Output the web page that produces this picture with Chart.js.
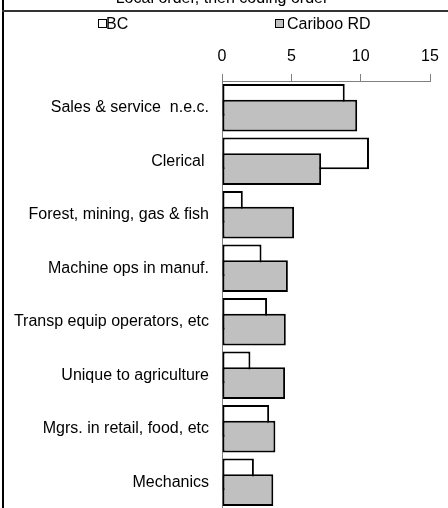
<!DOCTYPE html>
<html>
<head>
<meta charset="utf-8">
<style>
  html, body { margin: 0; padding: 0; background: #fff; overflow: hidden; }
  #wrap { position: relative; width: 448px; height: 508px; overflow: hidden; }
  canvas { position: absolute; left: 0; top: 0; }
</style>
</head>
<body>
<div id="wrap"><canvas id="chart" width="448" height="512"></canvas></div>
<script src="https://cdn.jsdelivr.net/npm/chart.js@4.4.1/dist/chart.umd.min.js"></script>
<script>
const titleText = "Local order, then coding order";
const categories = [
  "Sales & service  n.e.c.",
  "Clerical ",
  "Forest, mining, gas & fish",
  "Machine ops in manuf.",
  "Transp equip operators, etc",
  "Unique to agriculture",
  "Mgrs. in retail, food, etc",
  "Mechanics",
];
const seriesNames = ["BC", "Cariboo RD"];
const bcValues = [8.85, 10.6, 1.5, 2.85, 3.25, 2.05, 3.4, 2.3];
const caribooValues = [9.75, 7.15, 5.2, 4.75, 4.6, 4.55, 3.85, 3.7];
const xTicks = [0, 5, 10, 15];

const FONT = "'Liberation Sans', Arial, sans-serif";
Chart.defaults.font.family = FONT;
Chart.defaults.font.size = 16;
Chart.defaults.color = "#000";

// legend key positions (x of box, x of text)
const LEGEND_POS = [[98, 106], [275, 287]];

// BC bars sit behind the Cariboo bars (Excel overlap), so draw them first
const underlay = {
  id: "underlay",
  beforeDatasetsDraw(chart) {
    chart.getDatasetMeta(0).controller.draw();
  },
  beforeDatasetDraw(chart, args) {
    if (args.index === 0) return false;
  },
};

const frame = {
  id: "frame",
  afterDraw(chart) {
    const ctx = chart.ctx;
    ctx.save();
    // title, mostly cut off at the top
    ctx.font = "16px " + FONT;
    ctx.fillStyle = "#000";
    ctx.textAlign = "center";
    ctx.textBaseline = "alphabetic";
    ctx.fillText(titleText, 222, 3);
    // box lines
    ctx.fillStyle = "#000";
    ctx.fillRect(2, 0, 2, chart.height);
    ctx.fillStyle = "#333";
    ctx.fillRect(2, 10, chart.width - 2, 2);
    // legend
    ctx.textAlign = "left";
    chart.data.datasets.forEach((ds, i) => {
      const [bx, tx] = LEGEND_POS[i];
      ctx.fillStyle = ds.backgroundColor;
      ctx.fillRect(bx, 19, 8, 8);
      ctx.strokeStyle = "#000";
      ctx.lineWidth = 1;
      ctx.strokeRect(bx + 0.5, 19.5, 8, 8);
      ctx.fillStyle = "#000";
      ctx.fillText(ds.label, tx, 29);
    });
    ctx.restore();
  },
};

new Chart(document.getElementById("chart"), {
  type: "bar",
  data: {
    labels: categories,
    datasets: [
      {
        label: seriesNames[0],
        data: bcValues,
        backgroundColor: "#ffffff",
        borderColor: "#000",
        borderWidth: 2,
        borderSkipped: false,
      },
      {
        label: seriesNames[1],
        data: caribooValues,
        backgroundColor: "#c0c0c0",
        borderColor: "#000",
        borderWidth: 2,
        borderSkipped: false,
      },
    ],
  },
  options: {
    indexAxis: "y",
    responsive: false,
    animation: false,
    categoryPercentage: 0.592,
    barPercentage: 2,
    layout: { padding: { top: 41, right: 18, bottom: 3, left: 0 } },
    plugins: { legend: { display: false }, tooltip: { enabled: false } },
    scales: {
      x: {
        position: "top",
        min: xTicks[0],
        max: xTicks[xTicks.length - 1],
        ticks: { stepSize: xTicks[1] - xTicks[0], padding: 8, color: "#000", font: { size: 16 } },
        grid: { drawOnChartArea: false, drawTicks: true, tickLength: 7, color: "#808080", lineWidth: 1 },
        border: { display: true, color: "#808080", width: 1 },
        afterFit(scale) { scale.height = 40; },
      },
      y: {
        ticks: { padding: 13, color: "#000", font: { size: 16 }, autoSkip: false },
        grid: { display: false, drawTicks: false },
        border: { display: true, color: "#808080", width: 1 },
        afterFit(scale) {
          scale.width = 222;
          scale.paddingTop = 0;
          scale.paddingBottom = 0;
        },
      },
    },
  },
  plugins: [underlay, frame],
});
</script>
</body>
</html>
